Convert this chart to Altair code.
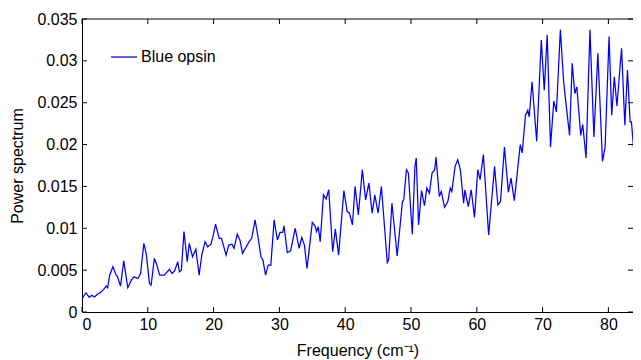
import altair as alt
import pandas as pd

# ---- data ----
freq = [
    0, 0.6, 1.1, 1.5, 1.9, 2.4, 2.9, 3.3, 3.7, 3.9,
    4.2, 4.7, 5.2, 5.4, 5.85, 6.35, 6.96, 7.5, 7.9, 8.5,
    8.9, 9.4, 9.75, 10.26, 10.5, 11.0, 11.3, 11.8, 12.5, 13.3,
    13.7, 14.06, 14.56, 14.8, 15.1, 15.5, 16.0, 16.3, 16.8, 17.3,
    17.8, 18.2, 18.7, 19.1, 19.6, 19.9, 20.3, 20.85, 21.2, 21.9,
    22.3, 22.8, 23.1, 23.6, 24.0, 24.4, 24.9, 25.4, 25.8, 26.3,
    26.7, 27.2, 27.5, 27.9, 28.3, 28.7, 29.2, 29.7, 30.1, 30.5,
    30.7, 31.2, 31.7, 32.4, 33.0, 33.4, 33.8, 34.2, 35.0, 35.4,
    35.65, 35.9, 36.2, 36.7, 37.1, 37.5, 38.1, 38.5, 39.0, 39.8,
    40.3, 40.65, 41.1, 41.5, 42.0, 42.6, 43.1, 43.6, 44.1, 44.5,
    45.0, 45.5, 46.4, 46.6, 47.1, 47.9, 48.7, 48.9, 49.3, 49.6,
    50.2, 50.6, 50.8, 51.15, 51.6, 52.05, 52.4, 52.8, 53.2, 53.6,
    53.8, 54.3, 54.6, 55.1, 55.6, 55.96, 56.2, 56.7, 57.1, 57.5,
    58.0, 58.2, 58.7, 59.15, 59.65, 60.15, 60.5, 61.0, 61.8, 62.7,
    63.2, 63.6, 64.2, 64.8, 65.2, 65.7, 66.6, 66.9, 67.4, 67.75,
    67.96, 68.4, 69.1, 69.8, 70.25, 70.7, 71.2, 71.7, 72.1, 72.7,
    73.2, 73.4, 74.1, 74.5, 74.9, 75.2, 75.8, 76.1, 76.6, 77.2,
    77.8, 78.4, 79.1, 79.5, 80.1, 80.5, 80.9, 81.3, 82.0, 82.5,
    82.9, 83.3, 83.5, 84.1, 84.8, 85.0,
]
power = [
    0.0016, 0.0023, 0.00175, 0.002, 0.0018, 0.00215, 0.0024, 0.0027, 0.0031, 0.0029,
    0.0044, 0.0054, 0.0044, 0.0042, 0.0031, 0.0061, 0.0029, 0.0038, 0.0042, 0.004,
    0.0046, 0.0082, 0.007, 0.0034, 0.0032, 0.0064, 0.0058, 0.0044, 0.0044, 0.0051,
    0.0046, 0.0049, 0.006, 0.0048, 0.005, 0.0096, 0.006, 0.0082, 0.0066, 0.0075,
    0.0044, 0.0068, 0.0084, 0.0078, 0.0081, 0.009, 0.0105, 0.0088, 0.0088, 0.0068,
    0.008, 0.0081, 0.0076, 0.0093, 0.0086, 0.007, 0.0077, 0.0084, 0.0088, 0.011,
    0.0092, 0.0066, 0.0062, 0.0044, 0.0056, 0.0056, 0.011, 0.0086, 0.0095, 0.0095,
    0.0103, 0.0071, 0.0073, 0.01, 0.0076, 0.0089, 0.008, 0.0052, 0.0107, 0.0103,
    0.0096, 0.0102, 0.0084, 0.014, 0.0135, 0.0146, 0.0072, 0.0099, 0.0068, 0.0145,
    0.012, 0.0118, 0.0104, 0.015, 0.0116, 0.017, 0.0134, 0.0154, 0.0118, 0.014,
    0.0118, 0.015, 0.0059, 0.0062, 0.013, 0.0067, 0.0132, 0.0134, 0.017, 0.0166,
    0.0093, 0.0174, 0.0184, 0.0104, 0.0145, 0.0127, 0.0148, 0.0142, 0.0166, 0.017,
    0.0185, 0.0138, 0.0144, 0.0125, 0.0132, 0.0148, 0.0144, 0.0174, 0.0182, 0.017,
    0.013, 0.0146, 0.0126, 0.0146, 0.0113, 0.017, 0.0158, 0.0188, 0.0092, 0.0174,
    0.0128, 0.0132, 0.0197, 0.0143, 0.016, 0.0133, 0.02, 0.019, 0.0235, 0.0241,
    0.0233, 0.0275, 0.0204, 0.0325, 0.0265, 0.0331, 0.0197, 0.0252, 0.0239, 0.0337,
    0.0275, 0.026, 0.0211, 0.0297, 0.0261, 0.0269, 0.0211, 0.0224, 0.0184, 0.0337,
    0.0209, 0.0309, 0.018, 0.0197, 0.0329, 0.0235, 0.0281, 0.0246, 0.0315, 0.0223,
    0.0289, 0.0227, 0.0227, 0.017, 0.0288, 0.029,
]
series_name = "Blue opsin"
x_ticks = [0, 10, 20, 30, 40, 50, 60, 70, 80]
y_ticks = [0, 0.005, 0.01, 0.015, 0.02, 0.025, 0.03, 0.035]

df = pd.DataFrame({"freq": freq, "power": power, "series": series_name})
xt = pd.DataFrame({"freq": x_ticks})
yt = pd.DataFrame({"power": y_ticks})
one = pd.DataFrame({"a": [0]})

PX_PER_UNIT = 6.58
W, H = 551, 293
X_MAX = W / PX_PER_UNIT  # the reference's window crops the axes near 85
FONT = "Liberation Sans"
FS = 16
TL = 5

xs = alt.Scale(domain=[0, X_MAX], nice=False, zero=False)
ys = alt.Scale(domain=[0, 0.035], nice=False, zero=False)

line = alt.Chart(df).mark_line(strokeWidth=1.25, clip=True).encode(
    x=alt.X("freq:Q", scale=xs, axis=alt.Axis(
        values=x_ticks, format="d", title="Frequency (cm⁻¹)", ticks=False,
        domain=True, grid=False, labelPadding=4, titleY=43,
        titleBaseline="alphabetic")),
    y=alt.Y("power:Q", scale=ys, axis=alt.Axis(
        values=y_ticks, format=".3~f", title="Power spectrum", ticks=False,
        domain=True, grid=False, labelPadding=5, titleX=-60,
        titleBaseline="alphabetic")),
    color=alt.Color("series:N",
                    scale=alt.Scale(domain=[series_name], range=["#0000ff"]),
                    legend=alt.Legend(title=None, orient="none", legendX=28,
                                      legendY=24, symbolType="stroke",
                                      symbolSize=676, symbolStrokeWidth=1.25,
                                      labelFontSize=FS, labelFont=FONT,
                                      labelColor="black", padding=0,
                                      labelOffset=3)),
)

tick_color = "black"
bottom = alt.Chart(xt).mark_rule(color=tick_color, strokeWidth=1).encode(
    x=alt.X("freq:Q", scale=xs), y=alt.value(H), y2=alt.value(H - TL))
top = alt.Chart(xt).mark_rule(color=tick_color, strokeWidth=1).encode(
    x=alt.X("freq:Q", scale=xs), y=alt.value(0), y2=alt.value(TL))
left = alt.Chart(yt).mark_rule(color=tick_color, strokeWidth=1).encode(
    y=alt.Y("power:Q", scale=ys), x=alt.value(0), x2=alt.value(TL))
right = alt.Chart(yt).mark_rule(color=tick_color, strokeWidth=1).encode(
    y=alt.Y("power:Q", scale=ys), x=alt.value(W - TL), x2=alt.value(W))
top_line = alt.Chart(one).mark_rule(color="black", strokeWidth=1).encode(
    x=alt.value(0), x2=alt.value(W), y=alt.value(0))

chart = alt.layer(line, bottom, top, left, right, top_line).properties(
    width=W, height=H,
    autosize=alt.AutoSizeParams(type="none"),
    padding={"left": 74, "top": 11, "right": 0, "bottom": 48},
    background="white",
).configure_view(strokeWidth=0).configure_axis(
    labelFont=FONT, labelFontSize=FS, labelColor="black",
    titleFont=FONT, titleFontSize=FS, titleColor="black", titleFontWeight="normal",
    domainColor="black", domainWidth=1,
)

chart.save("out.html", embed_options={"renderer": "svg", "actions": False})
